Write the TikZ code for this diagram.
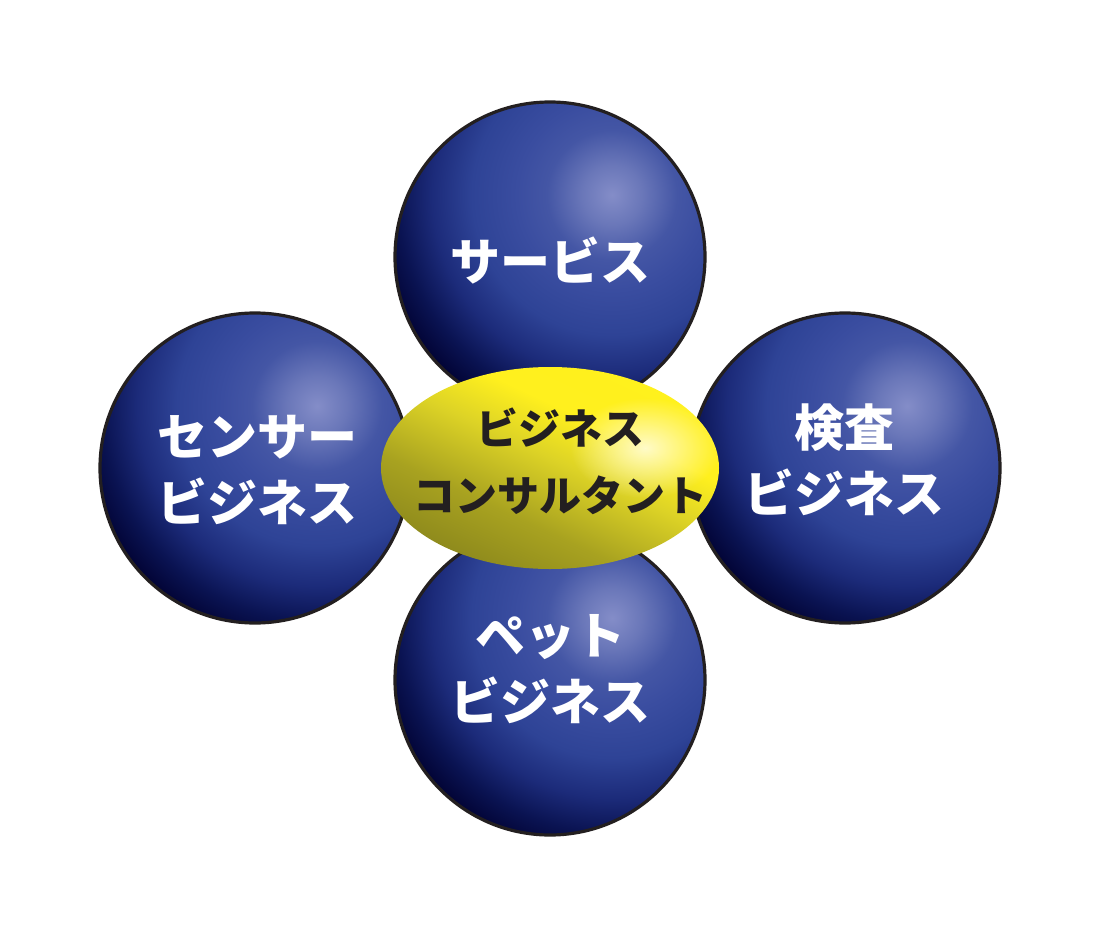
\documentclass[tikz,border=0pt]{standalone}
\usepackage{fontspec}
\newfontfamily\jp{Noto Sans CJK JP}
\usetikzlibrary{fadings}
\definecolor{outl}{HTML}{231F20}
\definecolor{bA}{HTML}{848DC8}
\definecolor{bB}{HTML}{6A77B9}
\definecolor{bC}{HTML}{4456A5}
\definecolor{bD}{HTML}{3A4DA0}
\definecolor{bE}{HTML}{2E4396}
\definecolor{bF}{HTML}{1C2B7A}
\definecolor{bG}{HTML}{0A1352}
\definecolor{bH}{HTML}{00002E}
\definecolor{yA}{HTML}{8C881C}
\definecolor{yB}{HTML}{A8A220}
\definecolor{yC}{HTML}{DDD326}
\definecolor{yD}{HTML}{FFF01E}
\definecolor{yE}{HTML}{FFF21A}
\definecolor{yHL}{HTML}{FFFBC8}
\pgfdeclareradialshading{blueball}{\pgfpoint{0bp}{0bp}}{color(0bp)=(bA); color(3bp)=(bB); color(6.5bp)=(bC); color(9.5bp)=(bD); color(14bp)=(bE); color(18bp)=(bF); color(21.5bp)=(bG); color(25bp)=(bH); color(50bp)=(bH)}
\pgfdeclareverticalshading{yellowlin}{100bp}{color(0bp)=(yA); color(25bp)=(yA); color(38bp)=(yB); color(52bp)=(yC); color(62bp)=(yD); color(100bp)=(yE)}
\tikzfading[name=hlfade, inner color=transparent!0, outer color=transparent!100]
\tikzset{
  ball/.style={draw=outl, line width=3.2pt},
  bluetxt/.style={text=white, align=center, font=\jp\bfseries\fontsize{50}{66}\selectfont},
  centertxt/.style={text=outl, align=center, font=\jp\bfseries\fontsize{42}{67}\selectfont},
}
\begin{document}
\begin{tikzpicture}[x=1pt,y=-1pt]
\fill[white] (0,0) rectangle (1099,936);
\useasboundingbox (0,0) rectangle (1099,936);
% blue spheres
\begin{scope}
  \clip (550,257) circle (155);
  \shade[shading=blueball] (612,195) circle (250);
\end{scope}
\draw[ball] (550,257) circle (155);
\node[bluetxt] (s1) at (550,260) {サービス};

\begin{scope}
  \clip (255,468) circle (155);
  \shade[shading=blueball] (317,406) circle (250);
\end{scope}
\draw[ball] (255,468) circle (155);
\node[bluetxt] (s2) at (257,470) {センサー\\ビジネス};

\begin{scope}
  \clip (845,468) circle (155);
  \shade[shading=blueball] (907,406) circle (250);
\end{scope}
\draw[ball] (845,468) circle (155);
\node[bluetxt] (s3) at (844,460) {検査\\ビジネス};

\begin{scope}
  \clip (550,680) circle (155);
  \shade[shading=blueball] (612,618) circle (250);
\end{scope}
\draw[ball] (550,680) circle (155);
\node[bluetxt] (s4) at (550,669) {ペット\\ビジネス};

% yellow ellipse
\shade[shading=yellowlin, shading angle=-25] (550,468) ellipse (169 and 101);
\begin{scope}
  \clip (550,468) ellipse (169 and 101);
  \fill[yHL, path fading=hlfade] (645,448) ellipse (75 and 50);
\end{scope}
\node[centertxt] (c) at (560,461) {ビジネス\\コンサルタント};
\end{tikzpicture}
\end{document}
